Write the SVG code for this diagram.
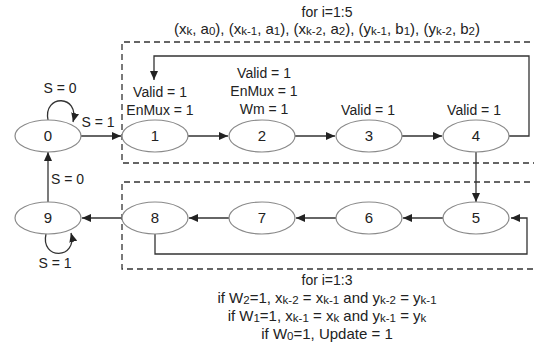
<svg xmlns="http://www.w3.org/2000/svg" width="534" height="342" viewBox="0 0 534 342">
  <style>
    text { font-family: "Liberation Sans", Arial, sans-serif; font-size: 14px; fill: #222; }
    .mid { text-anchor: middle; }
    .note { font-size: 15px; }
    .sub { font-size: 11.5px; }
    .state ellipse { fill: #fff; stroke: #8a8a8a; stroke-width: 1.2; }
    .state text { text-anchor: middle; font-size: 15px; }
    .wire { fill: none; stroke: #333; stroke-width: 1.3; }
    .wire.arrow { marker-end: url(#head); }
    .region { fill: none; stroke: #333; stroke-width: 1.3; stroke-dasharray: 6 4; }
  </style>
  <defs>
    <marker id="head" markerUnits="userSpaceOnUse" viewBox="0 0 9 8" markerWidth="9" markerHeight="8" refX="9" refY="4" orient="auto">
      <path d="M0,0 L9,4 L0,8 z" fill="#222"/>
    </marker>
  </defs>
  <rect width="534" height="342" fill="#fff"/>

  <!-- loop regions -->
  <g id="regions">
    <path class="region" d="M540 42 H122 V163 H540"/>
    <path class="region" d="M540 182 H122 V269 H540"/>
  </g>

  <!-- connectors -->
  <g id="connectors">
    <path class="wire arrow" d="M48 120 C43 94, 80 94, 73 122"/>
    <path class="wire arrow" d="M81 136 H121"/>
    <path class="wire arrow" d="M188 136 H228"/>
    <path class="wire arrow" d="M295 136 H335"/>
    <path class="wire arrow" d="M402 136 H442"/>
    <path class="wire arrow" d="M509 136 H529 V56 H154 V80"/>
    <path class="wire arrow" d="M476 152 V202"/>
    <path class="wire arrow" d="M443 218 H403"/>
    <path class="wire arrow" d="M336 218 H296"/>
    <path class="wire arrow" d="M229 218 H189"/>
    <path class="wire arrow" d="M122 218 H82"/>
    <path class="wire arrow" d="M155 234 V254 H527 V218 H511"/>
    <path class="wire arrow" d="M48 202 V152"/>
    <path class="wire arrow" d="M46 234 C40 260, 78 260, 71 233"/>
  </g>

  <!-- states -->
  <g id="s0" class="state"><ellipse cx="48" cy="136" rx="33" ry="16"/><text x="48" y="141">0</text></g>
  <g id="s1" class="state"><ellipse cx="155" cy="136" rx="33" ry="16"/><text x="155" y="141">1</text></g>
  <g id="s2" class="state"><ellipse cx="262" cy="136" rx="33" ry="16"/><text x="262" y="141">2</text></g>
  <g id="s3" class="state"><ellipse cx="369" cy="136" rx="33" ry="16"/><text x="369" y="141">3</text></g>
  <g id="s4" class="state"><ellipse cx="476" cy="136" rx="33" ry="16"/><text x="476" y="141">4</text></g>
  <g id="s5" class="state"><ellipse cx="476" cy="218" rx="33" ry="16"/><text x="476" y="223">5</text></g>
  <g id="s6" class="state"><ellipse cx="369" cy="218" rx="33" ry="16"/><text x="369" y="223">6</text></g>
  <g id="s7" class="state"><ellipse cx="262" cy="218" rx="33" ry="16"/><text x="262" y="223">7</text></g>
  <g id="s8" class="state"><ellipse cx="155" cy="218" rx="33" ry="16"/><text x="155" y="223">8</text></g>
  <g id="s9" class="state"><ellipse cx="48" cy="218" rx="33" ry="16"/><text x="48" y="223">9</text></g>

  <!-- transition conditions -->
  <g id="conditions">
    <text class="mid" x="60" y="93">S = 0</text>
    <text class="mid" x="98" y="127">S = 1</text>
    <text x="51" y="184">S = 0</text>
    <text class="mid" x="55" y="268">S = 1</text>
  </g>

  <!-- state outputs -->
  <g id="outputs">
    <text class="mid" x="160" y="97">Valid = 1</text>
    <text class="mid" x="160" y="115">EnMux = 1</text>
    <text class="mid" x="264" y="78">Valid = 1</text>
    <text class="mid" x="264" y="96">EnMux = 1</text>
    <text class="mid" x="264" y="114">Wm = 1</text>
    <text class="mid" x="368" y="115">Valid = 1</text>
    <text class="mid" x="474" y="115">Valid = 1</text>
  </g>

  <!-- loop annotations -->
  <g id="loop-top">
    <text class="mid" x="327" y="17">for i=1:5</text>
    <text class="mid note" x="327" y="34">(x<tspan class="sub" dy="1">k</tspan><tspan dy="-1">, a</tspan><tspan class="sub" dy="1">0</tspan><tspan dy="-1">), (x</tspan><tspan class="sub" dy="1">k-1</tspan><tspan dy="-1">, a</tspan><tspan class="sub" dy="1">1</tspan><tspan dy="-1">), (x</tspan><tspan class="sub" dy="1">k-2</tspan><tspan dy="-1">, a</tspan><tspan class="sub" dy="1">2</tspan><tspan dy="-1">), (y</tspan><tspan class="sub" dy="1">k-1</tspan><tspan dy="-1">, b</tspan><tspan class="sub" dy="1">1</tspan><tspan dy="-1">), (y</tspan><tspan class="sub" dy="1">k-2</tspan><tspan dy="-1">, b</tspan><tspan class="sub" dy="1">2</tspan><tspan dy="-1">)</tspan></text>
  </g>
  <g id="loop-bottom">
    <text class="mid" x="327" y="285">for i=1:3</text>
    <text class="mid note" x="327" y="303">if W<tspan class="sub" dy="1">2</tspan><tspan dy="-1">=1, x</tspan><tspan class="sub" dy="1">k-2</tspan><tspan dy="-1"> = x</tspan><tspan class="sub" dy="1">k-1</tspan><tspan dy="-1"> and y</tspan><tspan class="sub" dy="1">k-2</tspan><tspan dy="-1"> = y</tspan><tspan class="sub" dy="1">k-1</tspan></text>
    <text class="mid note" x="327" y="321">if W<tspan class="sub" dy="1">1</tspan><tspan dy="-1">=1, x</tspan><tspan class="sub" dy="1">k-1</tspan><tspan dy="-1"> = x</tspan><tspan class="sub" dy="1">k</tspan><tspan dy="-1"> and y</tspan><tspan class="sub" dy="1">k-1</tspan><tspan dy="-1"> = y</tspan><tspan class="sub" dy="1">k</tspan></text>
    <text class="mid note" x="327" y="339">if W<tspan class="sub" dy="1">0</tspan><tspan dy="-1">=1, Update = 1</tspan></text>
  </g>
</svg>
